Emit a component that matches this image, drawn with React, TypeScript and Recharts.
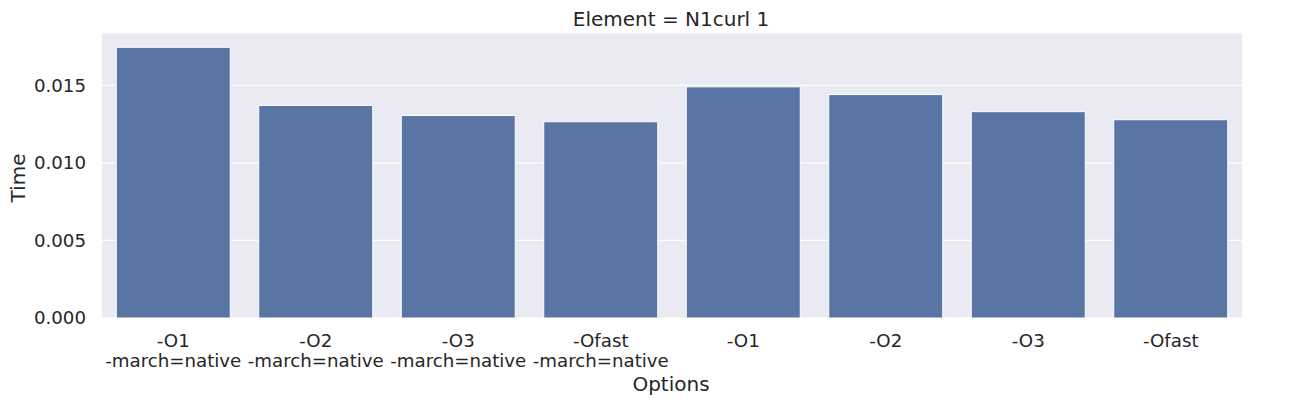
import React from "react";
import { BarChart, Bar, XAxis, YAxis, CartesianGrid, Customized } from "recharts";

const optionLines: string[][] = [
  ["-O1", "-march=native"],
  ["-O2", "-march=native"],
  ["-O3", "-march=native"],
  ["-Ofast", "-march=native"],
  ["-O1"],
  ["-O2"],
  ["-O3"],
  ["-Ofast"],
];
const times: number[] = [0.01745, 0.0137, 0.01305, 0.01265, 0.0149, 0.0144, 0.0133, 0.01278];
const yTicks: number[] = [0, 0.005, 0.01, 0.015];

const data = optionLines.map((lines, i) => ({ name: lines.join("\n"), time: times[i] }));

const FONT = "'DejaVu Sans', sans-serif";
const TXT = "#262626";
const FS_TICK = 18.2;
const FS_LABEL = 20;

const XTick = (props: any) => {
  const { x, payload } = props;
  const lines = String(payload.value).split("\n");
  return (
    <text x={x} y={346.5} textAnchor="middle" fontFamily={FONT} fontSize={FS_TICK} fill={TXT}>
      {lines.map((l, i) => (
        <tspan key={i} x={x} dy={i === 0 ? 0 : 20.7}>
          {l}
        </tspan>
      ))}
    </text>
  );
};

const Labels = () => (
  <g>
    <text x={671} y={25.5} textAnchor="middle" fontFamily={FONT} fontSize={FS_LABEL} fill={TXT}>
      Element = N1curl 1
    </text>
    <text x={671} y={391} textAnchor="middle" fontFamily={FONT} fontSize={FS_LABEL} fill={TXT}>
      Options
    </text>
    <text
      x={24.5}
      y={178}
      textAnchor="middle"
      transform="rotate(-90 24.5 178)"
      fontFamily={FONT}
      fontSize={FS_LABEL}
      fill={TXT}
    >
      Time
    </text>
  </g>
);

export default function App() {
  return (
    <div style={{ position: "absolute", left: 0, top: 0, width: 1304, height: 405, background: "#fff" }}>
      <BarChart
        width={1304}
        height={405}
        data={data}
        margin={{ top: 33, right: 62, bottom: 0, left: 0 }}
        barCategoryGap="10%"
      >
        <CartesianGrid
          stroke="#ffffff"
          strokeWidth={1.2}
          vertical={false}
          fill="#eaeaf2"
          fillOpacity={1}
        />
        <XAxis
          dataKey="name"
          height={87}
          tickLine={false}
          axisLine={false}
          interval={0}
          tick={<XTick />}
        />
        <YAxis
          width={102}
          domain={[0, 0.01837]}
          ticks={yTicks}
          tickFormatter={(v: number) => v.toFixed(3)}
          tickLine={false}
          axisLine={false}
          tickSize={6}
          tickMargin={10}
          tick={{ fontFamily: FONT, fontSize: FS_TICK, fill: TXT }}
          allowDataOverflow
        />
        <Bar dataKey="time" fill="#5975a4" stroke="#ffffff" strokeWidth={1} isAnimationActive={false} />
        <Customized component={Labels} />
      </BarChart>
    </div>
  );
}
